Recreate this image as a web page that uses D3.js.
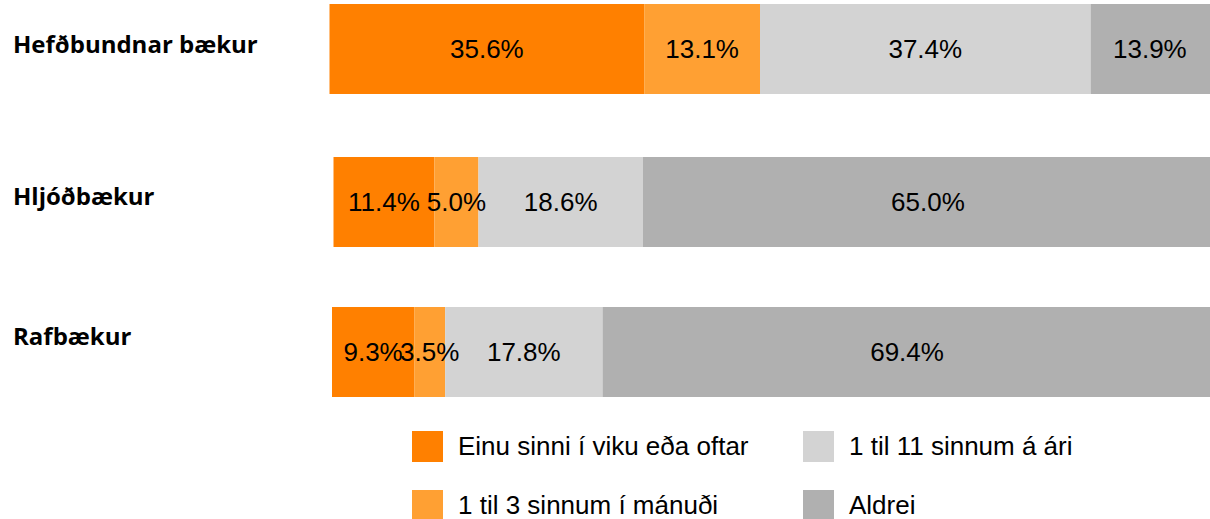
<!DOCTYPE html>
<html>
<head>
<meta charset="utf-8">
<script src="https://cdn.jsdelivr.net/npm/d3@7"></script>
<style>
  html, body { margin: 0; padding: 0; background: #fff; }
  svg { display: block; }
</style>
</head>
<body>
<div id="chart"></div>
<script>
// data
const categories = ["Hefðbundnar bækur", "Hljóðbækur", "Rafbækur"];
const seriesNames = ["Einu sinni í viku eða oftar", "1 til 3 sinnum í mánuði", "1 til 11 sinnum á ári", "Aldrei"];
const weekly  = [35.6, 11.4, 9.3];
const monthly = [13.1, 5.0, 3.5];
const yearly  = [37.4, 18.6, 17.8];
const never   = [13.9, 65.0, 69.4];

const colors = ["#ff8000", "#ffa033", "#d3d3d3", "#b0b0b0"];

const width = 1210, height = 519;

const svg = d3.select("#chart").append("svg")
    .attr("width", width)
    .attr("height", height);

// rows in a band layout
const y = d3.scaleBand()
    .domain(categories)
    .range([4, 398])
    .paddingInner(0.408)
    .paddingOuter(0);

// small per-row nudges seen in the reference
const rowShiftX = [-2, 2, 0.5];
const rowShiftY = [0, 1, -1];
const labelBaseline = [49, 48, 38];

// the bars run a little past the right edge of the picture
const x = d3.scaleLinear().domain([0, 100]).range([331.5, 1215.5]);

const rows = categories.map((c, i) => {
    const vals = [weekly[i], monthly[i], yearly[i], never[i]];
    let acc = 0;
    return vals.map((v, k) => {
        const seg = { cat: c, row: i, k, v, x0: acc, x1: acc + v };
        acc += v;
        return seg;
    });
});

const g = svg.append("g");

rows.forEach((segs, i) => {
    const row = g.append("g")
        .attr("transform", `translate(${rowShiftX[i]},${rowShiftY[i]})`);

    row.selectAll("rect")
        .data(segs)
        .enter().append("rect")
        .attr("x", d => x(d.x0))
        .attr("width", d => x(d.x1) - x(d.x0))
        .attr("y", d => y(d.cat))
        .attr("height", y.bandwidth())
        .attr("fill", d => colors[d.k]);

    row.selectAll("text")
        .data(segs)
        .enter().append("text")
        .attr("x", d => (x(d.x0) + x(Math.min(d.x1, 99.5))) / 2)
        .attr("y", d => y(d.cat) + y.bandwidth() / 2)
        .attr("dy", "0.35em")
        .attr("text-anchor", "middle")
        .style("font-family", "'Liberation Sans', Arial, sans-serif")
        .style("font-size", "26px")
        .style("fill", "#000")
        .text(d => d.v.toFixed(1) + "%");
});

// category labels
g.append("g").selectAll("text")
    .data(categories)
    .enter().append("text")
    .attr("x", 13)
    .attr("y", (d, i) => y(d) + rowShiftY[i] + labelBaseline[i])
    .style("font-family", "'Open Sans', 'Noto Sans', sans-serif")
    .style("font-weight", "bold")
    .style("font-size", "24px")
    .style("fill", "#000")
    .text(d => d);

// legend: two columns, column-major order
const legend = svg.append("g");
const legendItems = legend.selectAll("g")
    .data(seriesNames)
    .enter().append("g")
    .attr("transform", (d, i) => `translate(${412 + Math.floor(i / 2) * 391},${431 + (i % 2) * 59})`);

legendItems.append("rect")
    .attr("width", 31)
    .attr("height", 31)
    .attr("fill", (d, i) => colors[i]);

legendItems.append("text")
    .attr("x", 46)
    .attr("y", 24)
    .style("font-family", "'Liberation Sans', Arial, sans-serif")
    .style("font-size", "26px")
    .style("fill", "#000")
    .text(d => d);
</script>
</body>
</html>
